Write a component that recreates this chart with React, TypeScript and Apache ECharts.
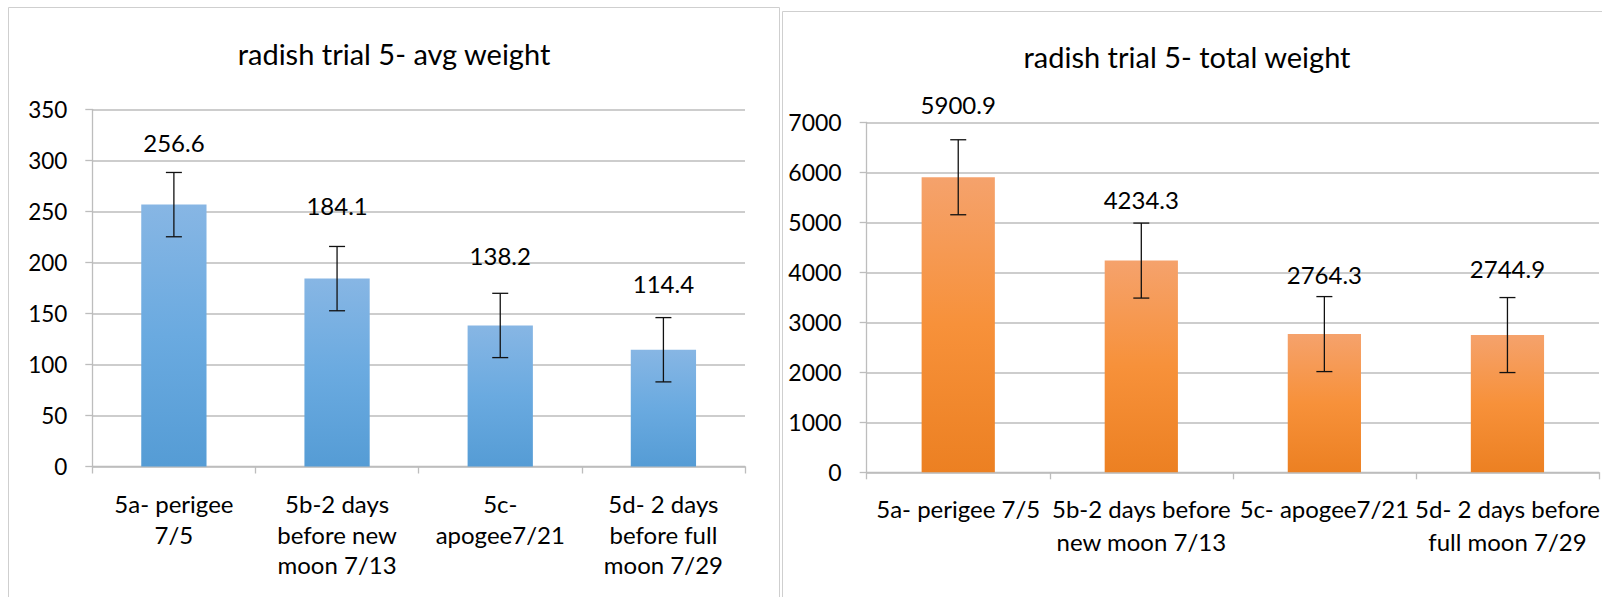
import React, { useEffect, useRef } from "react";
import * as echarts from "echarts";

// ---- data ----
const categories = [
  "5a- perigee 7/5",
  "5b-2 days before new moon 7/13",
  "5c- apogee7/21",
  "5d- 2 days before full moon 7/29",
];
const leftTickLabels = [
  "5a- perigee\n7/5",
  "5b-2 days\nbefore new\nmoon 7/13",
  "5c-\napogee7/21",
  "5d- 2 days\nbefore full\nmoon 7/29",
];
const rightTickLabels = [
  "5a- perigee 7/5",
  "5b-2 days before\nnew moon 7/13",
  "5c- apogee7/21",
  "5d- 2 days before\nfull moon 7/29",
];
const avgWeight = [256.6, 184.1, 138.2, 114.4];
const avgError = [31.5, 31.5, 31.5, 31.5];
const totalWeight = [5900.9, 4234.3, 2764.3, 2744.9];
const totalError = [750, 750, 750, 750];
const leftTitle = "radish trial 5- avg weight";
const rightTitle = "radish trial 5- total weight";

// label lift (style only)
const leftLabelLift = [50, 61, 58, 54];
const rightLabelLift = [61, 49.5, 48, 54.5];

const FONT = "Lato";
const GRID_COLOR = "#bdbdbd";

function errorSeries(values: number[], errs: number[], idx: number) {
  return {
    type: "custom",
    xAxisIndex: idx,
    yAxisIndex: idx,
    z: 10,
    silent: true,
    data: values.map((v, i) => [i, v, errs[i]]),
    encode: { x: 0, y: 1 },
    renderItem: (params: any, api: any) => {
      const i = api.value(0);
      const v = api.value(1);
      const e = api.value(2);
      const hi = api.coord([i, v + e]);
      const lo = api.coord([i, v - e]);
      const hw = 8;
      const st = { stroke: "#111", lineWidth: 1.3 };
      return {
        type: "group",
        children: [
          { type: "line", shape: { x1: hi[0], y1: hi[1], x2: lo[0], y2: lo[1] }, style: st },
          { type: "line", shape: { x1: hi[0] - hw, y1: hi[1], x2: hi[0] + hw, y2: hi[1] }, style: st },
          { type: "line", shape: { x1: lo[0] - hw, y1: lo[1], x2: lo[0] + hw, y2: lo[1] }, style: st },
        ],
      };
    },
  };
}

function xAxis(idx: number, labels: string[], margin: number, fontSize: number, lineHeight: number) {
  return {
    type: "category",
    gridIndex: idx,
    data: categories,
    axisLine: { show: true, lineStyle: { color: GRID_COLOR, width: 1.3 } },
    axisTick: { show: true, length: 7, lineStyle: { color: GRID_COLOR, width: 1.3 } },
    axisLabel: {
      interval: 0,
      margin,
      color: "#000",
      fontFamily: FONT,
      fontSize,
      lineHeight,
      align: "center",
      formatter: (_v: string, i: number) => labels[i],
    },
  };
}

function yAxis(idx: number, max: number, interval: number, fontSize: number, pad: number) {
  return {
    type: "value",
    gridIndex: idx,
    min: 0,
    max,
    interval,
    axisLine: { show: true, lineStyle: { color: GRID_COLOR, width: 1.3 } },
    axisTick: { show: true, length: 7, lineStyle: { color: GRID_COLOR, width: 1.3 } },
    splitLine: { show: true, lineStyle: { color: GRID_COLOR, width: 1.5 } },
    axisLabel: {
      margin: 25,
      color: "#000",
      fontFamily: FONT,
      fontSize,
      padding: [pad, 0, 0, 0],
      formatter: (v: number) => String(v),
    },
  };
}

export default function App() {
  const ref = useRef<HTMLDivElement>(null);
  useEffect(() => {
    if (!ref.current) return;
    const chart = echarts.init(ref.current, null, { renderer: "svg" });
    const blue = new echarts.graphic.LinearGradient(0, 0, 0, 1, [
      { offset: 0, color: "#87b6e4" },
      { offset: 0.5, color: "#6aaae0" },
      { offset: 1, color: "#559cd5" },
    ]);
    const orange = new echarts.graphic.LinearGradient(0, 0, 0, 1, [
      { offset: 0, color: "#f5a26c" },
      { offset: 0.5, color: "#f7913a" },
      { offset: 1, color: "#ec8022" },
    ]);
    const titleStyle = { fontFamily: FONT, fontSize: 29, fontWeight: "normal", color: "#000", lineHeight: 34 };
    chart.setOption({
      animation: false,
      backgroundColor: "#fff",
      textStyle: { fontFamily: FONT },
      title: [
        { text: leftTitle, left: 389, top: 31, textAlign: "center", textStyle: titleStyle },
        { text: rightTitle, left: 1182, top: 34, textAlign: "center", textStyle: titleStyle },
      ],
      graphic: [
        {
          type: "rect",
          silent: true,
          z: -10,
          shape: { x: 8.5, y: 7.5, width: 771, height: 700 },
          style: { fill: "none", stroke: "#cfcfcf", lineWidth: 1 },
        },
        {
          type: "rect",
          silent: true,
          z: -10,
          shape: { x: 782.5, y: 11.5, width: 900, height: 700 },
          style: { fill: "none", stroke: "#cfcfcf", lineWidth: 1 },
        },
      ],
      grid: [
        { left: 92.3, top: 109.3, width: 652.7, height: 357.2 },
        { left: 866.7, top: 122.3, width: 739, height: 350 },
      ],
      xAxis: [xAxis(0, leftTickLabels, 21.75, 24, 30.5), xAxis(1, rightTickLabels, 20.25, 24, 32.5)],
      yAxis: [yAxis(0, 350, 50, 22.5, 7), yAxis(1, 7000, 1000, 23, 6)],
      series: [
        {
          type: "bar",
          xAxisIndex: 0,
          yAxisIndex: 0,
          barWidth: "40%",
          itemStyle: { color: blue },
          data: avgWeight.map((v, i) => ({
            value: v,
            label: { distance: leftLabelLift[i] },
          })),
          label: {
            show: true,
            position: "top",
            color: "#000",
            fontFamily: FONT,
            fontSize: 24,
            lineHeight: 24,
            formatter: (p: any) => String(p.value),
          },
        },
        errorSeries(avgWeight, avgError, 0),
        {
          type: "bar",
          xAxisIndex: 1,
          yAxisIndex: 1,
          barWidth: "40%",
          itemStyle: { color: orange },
          data: totalWeight.map((v, i) => ({
            value: v,
            label: { distance: rightLabelLift[i] },
          })),
          label: {
            show: true,
            position: "top",
            color: "#000",
            fontFamily: FONT,
            fontSize: 24,
            lineHeight: 24,
            formatter: (p: any) => String(p.value),
          },
        },
        errorSeries(totalWeight, totalError, 1),
      ],
    });
    return () => chart.dispose();
  }, []);
  return (
    <div
      ref={ref}
      style={{ position: "fixed", left: 0, top: 0, width: 1602, height: 597, background: "#fff" }}
    />
  );
}
